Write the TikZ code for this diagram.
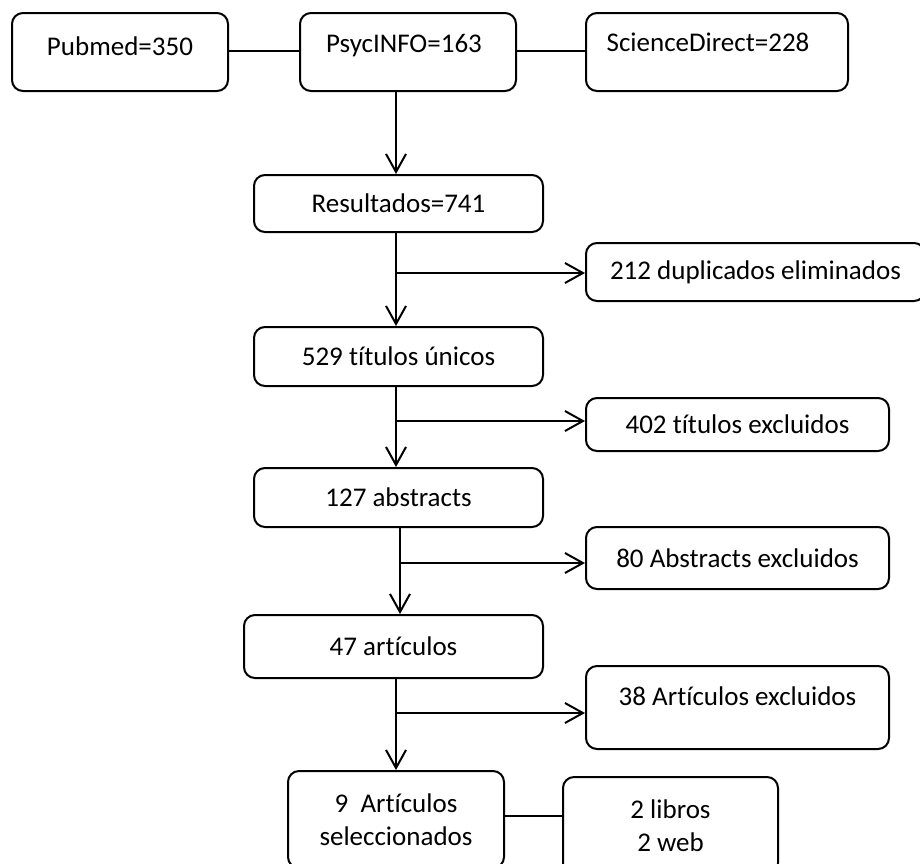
\documentclass[tikz,border=0pt]{standalone}
\usepackage{fontspec}
\setmainfont[Ligatures=NoCommon]{Carlito}
\usetikzlibrary{arrows.meta,calc}
\tikzset{
  txtfont/.style={font=\fontsize{27}{33}\selectfont},
  box/.style={draw=black, line width=2pt, rounded corners=11pt, align=center,
    inner sep=0pt, txtfont},
  lbl/.style={inner sep=0pt, txtfont},
  conn/.style={draw=black, line width=2pt},
  arr/.style={conn, -{Straight Barb[length=18pt,width=20pt,line width=2pt]}},
}
\begin{document}
\begin{tikzpicture}[x=1pt,y=-1pt]
\useasboundingbox (0,0) rectangle (920,863);
\clip (0,0) rectangle (920,863);
% top row
\node[box, minimum width=216pt, minimum height=78pt] (pub) at (120,52) {};
\node[lbl] (pubt) at (120,46) {Pubmed=350};
\node[box, minimum width=216pt, minimum height=78pt] (psy) at (408,52) {};
\node[lbl] (psyt) at (404,46) {PsycINFO=163};
\node[box, minimum width=262pt, minimum height=78pt] (sd) at (717,52) {};
\node[lbl] (sdt) at (708,42) {ScienceDirect=228};
% main column
\node[box, minimum width=289pt, minimum height=57pt] (res) at (398.5,203.5) {Resultados=741};
\node[box, minimum width=289pt, minimum height=59pt] (uni) at (398.5,356.5) {529 títulos únicos};
\node[box, minimum width=289pt, minimum height=59pt] (abs) at (398.5,497.5) {127 abstracts};
\node[box, minimum width=299pt, minimum height=63pt] (art) at (393.5,646.5) {47 artículos};
\node[box, minimum width=216pt, minimum height=97pt] (sel) at (396,819.5) {9\ \ Artículos\\seleccionados};
% right column
\node[box, minimum width=339pt, minimum height=58pt] (dup) at (755.5,272) {212 duplicados eliminados};
\node[box, minimum width=303pt, minimum height=53pt] (tex) at (737.5,424.5) {402 títulos excluidos};
\node[box, minimum width=303pt, minimum height=62pt] (aex) at (737.5,558) {80 Abstracts excluidos};
\node[box, minimum width=303pt, minimum height=83pt] (arex) at (737.5,707.5) {};
\node[lbl] (arext) at (737.5,696) {38 Artículos excluidos};
\node[box, minimum width=215pt, minimum height=97pt] (lib) at (670.5,825.5) {2 libros\\2 web};
% trunk coordinates
\coordinate (t) at (396,0);
\coordinate (t2) at (400,0);
\coordinate (b1) at (396,273);
\coordinate (b2) at (396,421);
\coordinate (b3) at (400,563);
\coordinate (b4) at (396,713);
\coordinate (h1) at (0,51);
\coordinate (h2) at (0,816);
% connectors
\draw[conn] (pub.east |- h1) -- (psy.west |- h1);
\draw[conn] (psy.east |- h1) -- (sd.west |- h1);
\draw[arr] (psy.south -| t) -- (res.north -| t);
\draw[arr] (res.south -| t) -- (uni.north -| t);
\draw[arr] (b1) -- (b1 -| dup.west);
\draw[arr] (uni.south -| t) -- (abs.north -| t);
\draw[arr] (b2) -- (b2 -| tex.west);
\draw[arr] (abs.south -| t2) -- (art.north -| t2);
\draw[arr] (b3) -- (b3 -| aex.west);
\draw[arr] (art.south -| t) -- (sel.north -| t);
\draw[arr] (b4) -- (b4 -| arex.west);
\draw[conn] (sel.east |- h2) -- (lib.west |- h2);
\end{tikzpicture}
\end{document}
